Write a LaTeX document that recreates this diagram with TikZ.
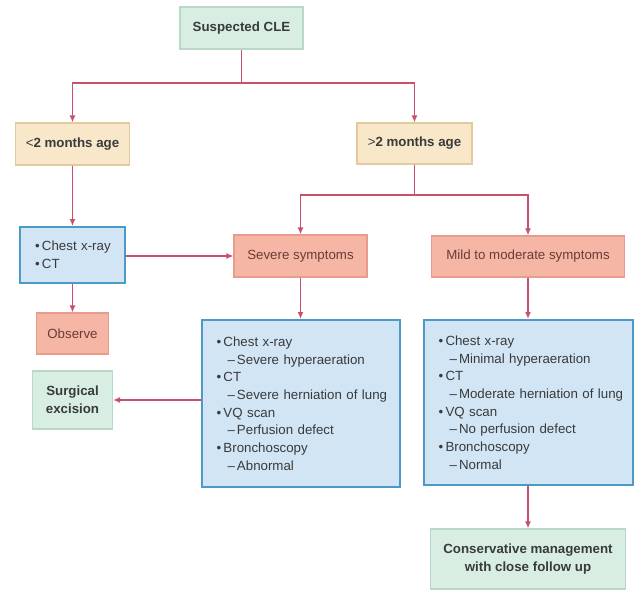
\documentclass[tikz,border=0pt]{standalone}
\usepackage{fontspec}
\setmainfont{Liberation Sans}
\usetikzlibrary{arrows.meta}

\definecolor{linkred}{HTML}{C8506B}
\definecolor{boxgreen}{HTML}{D8EEE2}
\definecolor{boxgreenline}{HTML}{B9D9C6}
\definecolor{boxtan}{HTML}{F8E7C8}
\definecolor{boxtanline}{HTML}{E2CA9E}
\definecolor{boxsalmon}{HTML}{F6B6A5}
\definecolor{boxsalmonline}{HTML}{E99C8A}
\definecolor{boxblue}{HTML}{D2E5F4}
\definecolor{boxblueline}{HTML}{4E9AC6}
\definecolor{textgray}{HTML}{383A3C}
\definecolor{textbrown}{HTML}{6A3C36}

\newcommand{\diagfont}{\fontsize{13.3bp}{17.7bp}\selectfont}
\newcommand{\itm}[1]{\hspace*{9bp}\makebox[7bp][l]{•}#1}
\newcommand{\subitm}[1]{\hspace*{20bp}\makebox[9.5bp][l]{–}#1}

\tikzset{
  box/.style={draw, line width=1.2bp, inner sep=0pt, align=center, text=textgray, font=\diagfont},
  greenbox/.style={box, fill=boxgreen, draw=boxgreenline, font=\diagfont\bfseries},
  agebox/.style={box, fill=boxtan, draw=boxtanline, font=\diagfont\bfseries},
  sympbox/.style={box, fill=boxsalmon, draw=boxsalmonline, text=textbrown},
  testbox/.style={box, fill=boxblue, draw=boxblueline, line width=2bp, align=left, inner xsep=6bp},
  link/.style={draw=linkred, line width=1.8bp},
  arr/.style={link, -{Latex[length=7bp,width=6bp]}}
}

\begin{document}
\begin{tikzpicture}[x=1bp, y=-1bp]
  \useasboundingbox (0,0) rectangle (637,590);

  % start and age split
  \node[greenbox, minimum width=123bp, minimum height=42bp] (cle) at (241.5,28) {Suspected CLE};
  \node[agebox, minimum width=114bp, minimum height=42bp] (young) at (72.5,144) {{\mdseries<}2 months age};
  \node[agebox, minimum width=115bp, minimum height=41bp] (old) at (414.5,143.5) {{\mdseries>}2 months age};

  % younger branch
  \node[testbox, text width=93bp, minimum height=56bp] (imaging) at (72.5,255)
    {\itm{Chest x-ray}\\ \itm{CT}};
  \node[sympbox, minimum width=72bp, minimum height=41bp] (observe) at (72.5,333.5) {Observe};
  \node[greenbox, minimum width=80bp, minimum height=58bp] (surgery) at (72.5,400) {Surgical\\ excision};

  % symptoms
  \node[sympbox, minimum width=133bp, minimum height=42bp] (severe) at (300.5,256) {Severe symptoms};
  \node[sympbox, minimum width=193bp, minimum height=41bp] (mild) at (528,256.5) {Mild to moderate symptoms};

  % findings
  \node[testbox, text width=186bp, minimum height=167bp] (sevfind) at (300.5,403.5)
    {\itm{Chest x-ray}\\ \subitm{Severe hyperaeration}\\ \itm{CT}\\ \subitm{Severe herniation of lung}\\
     \itm{VQ scan}\\ \subitm{Perfusion defect}\\ \itm{Bronchoscopy}\\ \subitm{Abnormal}};
  \node[testbox, text width=197bp, minimum height=165bp] (mildfind) at (528,402.5)
    {\itm{Chest x-ray}\\ \subitm{Minimal hyperaeration}\\ \itm{CT}\\ \subitm{Moderate herniation of lung}\\
     \itm{VQ scan}\\ \subitm{No perfusion defect}\\ \itm{Bronchoscopy}\\ \subitm{Normal}};
  \node[greenbox, minimum width=195bp, minimum height=60bp] (conserve) at (528,559) {Conservative management\\ with close follow up};

  % connectors
  \coordinate (agesplit) at (241.5,83);
  \coordinate (sympsplit) at (414.5,195);
  \draw[link] (cle) -- (agesplit);
  \draw[arr] (agesplit) -| (young);
  \draw[arr] (agesplit) -| (old);
  \draw[link] (old) -- (sympsplit);
  \draw[arr] (sympsplit) -| (severe);
  \draw[arr] (sympsplit) -| (mild);
  \draw[arr] (young) -- (imaging);
  \draw[arr] (imaging.east |- severe) -- (severe);
  \draw[arr] (imaging) -- (observe);
  \draw[arr] (severe) -- (sevfind);
  \draw[arr] (mild) -- (mildfind);
  \draw[arr] (sevfind.west |- surgery) -- (surgery);
  \draw[arr] (mildfind) -- (conserve);
\end{tikzpicture}
\end{document}
